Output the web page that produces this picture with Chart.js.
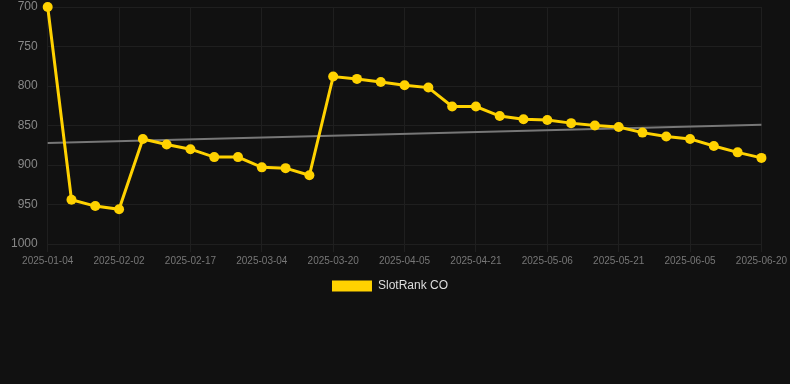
<!DOCTYPE html>
<html>
<head>
<meta charset="utf-8">
<script src="https://cdn.jsdelivr.net/npm/chart.js@4/dist/chart.umd.min.js"></script>
<style>
    html, body { margin: 0; padding: 0; background: #111111; }
    #wrap { position: relative; width: 790px; height: 302px; }
</style>
</head>
<body>
<div id="wrap"><canvas id="rankChart"></canvas></div>
<script>
// ==========================================
// DATA
// ==========================================

const dates = [
    '2025-01-04', '2025-01-14', '2025-01-24', '2025-02-02', '2025-02-07', '2025-02-12',
    '2025-02-17', '2025-02-22', '2025-02-27', '2025-03-04', '2025-03-09', '2025-03-15',
    '2025-03-20', '2025-03-25', '2025-03-31', '2025-04-05', '2025-04-10', '2025-04-16',
    '2025-04-21', '2025-04-26', '2025-05-01', '2025-05-06', '2025-05-11', '2025-05-16',
    '2025-05-21', '2025-05-26', '2025-05-31', '2025-06-05', '2025-06-10', '2025-06-15',
    '2025-06-20'
];

const rankValues = [
    700, 944, 952, 956, 867, 874, 880, 890, 890, 903, 904, 913,
    788, 791, 795, 799, 802, 826, 826, 838, 842, 843, 847, 850,
    852, 859, 864, 867, 876, 884, 891
];

// trend line, only the two ends
const trendValues = [872].concat(new Array(29).fill(null), [849]);

const seriesLabel = 'SlotRank CO';

// ==========================================
// CHART
// ==========================================

const ctx = document.getElementById('rankChart').getContext('2d');
const rankChart = new Chart(ctx, {
    type: 'line',
    data: {
        labels: dates,
        datasets: [{
            label: seriesLabel,
            data: rankValues,
            borderColor: '#FFD200',
            backgroundColor: '#FFD200',
            borderWidth: 3,
            pointRadius: 5,
            pointHoverRadius: 6,
            pointBackgroundColor: '#FFD200',
            pointBorderWidth: 0,
            tension: 0,
            clip: false
        }, {
            label: 'trend',
            data: trendValues,
            borderColor: '#777777',
            borderWidth: 2,
            pointRadius: 0,
            spanGaps: true,
            tension: 0
        }]
    },
    options: {
        responsive: true,
        maintainAspectRatio: false,
        animation: false,
        layout: {
            autoPadding: false,
            padding: { left: 1, right: 11, top: 7, bottom: 0 }
        },
        plugins: {
            legend: {
                position: 'bottom',
                labels: {
                    color: '#dddddd',
                    boxWidth: 40,
                    boxHeight: 11,
                    font: { family: 'Liberation Sans, Arial, sans-serif', size: 12 },
                    generateLabels: chart => [{
                        text: seriesLabel,
                        fillStyle: '#FFD200',
                        strokeStyle: '#FFD200',
                        lineWidth: 0,
                        fontColor: '#dddddd',
                        datasetIndex: 0
                    }]
                }
            },
            tooltip: { enabled: false }
        },
        scales: {
            x: {
                grid: {
                    color: '#1f1f1f',
                    tickLength: 8
                },
                border: { color: '#1f1f1f' },
                ticks: {
                    color: '#777777',
                    font: { family: 'Liberation Sans, Arial, sans-serif', size: 10 },
                    maxRotation: 0,
                    autoSkip: true,
                    maxTicksLimit: 11
                }
            },
            y: {
                reverse: true,
                min: 700,
                max: 1000,
                grid: {
                    color: '#1f1f1f',
                    drawTicks: false
                },
                border: { display: false },
                afterFit: scale => { scale.paddingTop = 0; },
                ticks: {
                    stepSize: 50,
                    color: '#888888',
                    padding: 10,
                    font: { family: 'Liberation Sans, Arial, sans-serif', size: 12 },
                    callback: value => String(value)
                }
            }
        }
    }
});
</script>
</body>
</html>
